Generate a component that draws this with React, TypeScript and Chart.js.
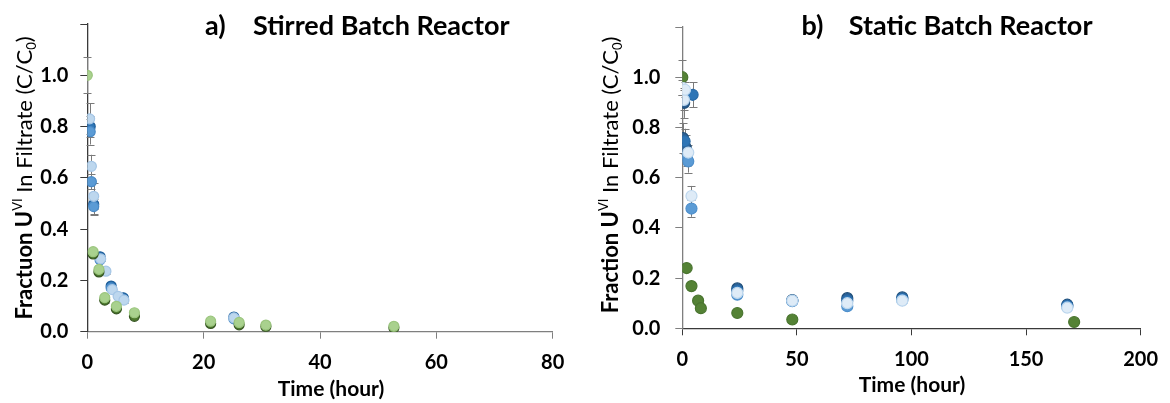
import React, { useEffect, useRef } from "react";
import { Chart, registerables } from "chart.js";

Chart.register(...registerables);

// ---------- Panel a) Stirred Batch Reactor ----------
const aBlueDarkT = [0.5, 1.1, 2.2, 4.1, 6.2, 25.2];
const aBlueDarkC = [0.8, 0.497, 0.292, 0.178, 0.132, 0.057];
const aBlueDarkE = [0.04, 0.04, 0.01, 0.01, 0.01, 0];

const aBlueMidT = [0.5, 0.7, 1.1, 2.2, 4.1, 6.1, 25.2];
const aBlueMidC = [0.78, 0.585, 0.488, 0.28, 0.17, 0.127, 0.05];
const aBlueMidE = [0.05, 0.03, 0.03, 0.01, 0.01, 0.01, 0];

const aBlueLightT = [0.4, 0.7, 1.1, 2.3, 3.2, 4.3, 5.3, 6.3, 25.2];
const aBlueLightC = [0.83, 0.645, 0.528, 0.284, 0.236, 0.164, 0.138, 0.123, 0.054];
const aBlueLightE = [0.06, 0.045, 0.05, 0.01, 0.01, 0.01, 0.01, 0.01, 0];

const aGreenDarkT = [1.0, 2.0, 3.0, 5.0, 8.1, 21.2, 26.1, 30.7, 52.7];
const aGreenDarkC = [0.303, 0.233, 0.123, 0.089, 0.06, 0.032, 0.027, 0.02, 0.015];
const aGreenDarkE = [0.01, 0.01, 0.01, 0.005, 0.005, 0, 0, 0, 0];

const aGreenLightT = [0, 1.0, 2.0, 3.0, 5.0, 8.1, 21.2, 26.1, 30.7, 52.7];
const aGreenLightC = [1.0, 0.312, 0.243, 0.133, 0.099, 0.074, 0.041, 0.036, 0.026, 0.021];
const aGreenLightE = [0.07, 0.01, 0.01, 0.01, 0.005, 0.005, 0, 0, 0, 0];

// ---------- Panel b) Static Batch Reactor ----------
const bNavyT = [0.3, 0.8, 1.5, 24, 48, 72, 96, 168];
const bNavyC = [0.758, 0.898, 0.72, 0.159, 0.112, 0.12, 0.123, 0.094];
const bNavyE = [0.06, 0.06, 0.05, 0, 0, 0, 0, 0];

const bMidT = [1.0, 4.5, 24, 48, 72, 96, 168];
const bMidC = [0.745, 0.93, 0.15, 0.11, 0.11, 0.118, 0.09];
const bMidE = [0.05, 0.05, 0, 0, 0, 0, 0];

const bLightT = [2.0, 2.6, 4.0, 24, 48, 72, 96, 168];
const bLightC = [0.685, 0.665, 0.477, 0.134, 0.108, 0.088, 0.112, 0.085];
const bLightE = [0.04, 0.045, 0.033, 0, 0, 0, 0, 0];

const bPaleT = [0, 0.7, 1.2, 2.6, 4.0, 24, 48, 72, 96, 168];
const bPaleC = [0.958, 0.91, 0.95, 0.7, 0.527, 0.141, 0.11, 0.1, 0.11, 0.082];
const bPaleE = [0.03, 0.04, 0.03, 0.03, 0.04, 0, 0, 0, 0, 0];

const bGreenT = [0, 1.9, 4.0, 6.9, 8.1, 24, 48, 171];
const bGreenC = [1.0, 0.24, 0.168, 0.11, 0.08, 0.061, 0.035, 0.025];
const bGreenE = [0.07, 0, 0, 0, 0, 0, 0, 0];

// ---------- Axis ticks ----------
const yTickValues = [0, 0.2, 0.4, 0.6, 0.8, 1.0, 1.2];
const yTickLabels = ["0.0", "0.2", "0.4", "0.6", "0.8", "1.0", ""];
const aXMax = 80;
const aXStep = 20;
const bXMax = 200;
const bXStep = 50;

const FONT = "Lato, 'Noto Sans', sans-serif";

function pts(t: number[], c: number[]) {
  return t.map((x, i) => ({ x, y: c[i] }));
}

function ds(t: number[], c: number[], e: number[], fill: string, border: string, r = 5) {
  return {
    data: pts(t, c),
    errors: e,
    backgroundColor: fill,
    borderColor: border,
    borderWidth: 1.2,
    pointRadius: r,
    pointHoverRadius: r,
    showLine: false,
  } as any;
}

const errorBarPlugin = {
  id: "errorBars",
  beforeDatasetsDraw(chart: any) {
    const ctx = chart.ctx;
    const xs = chart.scales.x;
    const ys = chart.scales.y;
    ctx.save();
    ctx.strokeStyle = "#7a7a7a";
    ctx.lineWidth = 1;
    chart.data.datasets.forEach((d: any) => {
      (d.data as any[]).forEach((p, i) => {
        const e = d.errors ? d.errors[i] : 0;
        if (!e) return;
        const x = Math.round(xs.getPixelForValue(p.x)) + 0.5;
        const y1 = ys.getPixelForValue(p.y + e);
        const y2 = ys.getPixelForValue(p.y - e);
        ctx.beginPath();
        ctx.moveTo(x, y1);
        ctx.lineTo(x, y2);
        ctx.moveTo(x - 4, Math.round(y1) + 0.5);
        ctx.lineTo(x + 4, Math.round(y1) + 0.5);
        ctx.moveTo(x - 4, Math.round(y2) + 0.5);
        ctx.lineTo(x + 4, Math.round(y2) + 0.5);
        ctx.stroke();
      });
    });
    ctx.restore();
  },
};

type Seg = { t: string; font: string; dy: number };

function makeTextPlugin(cfg: any) {
  return {
    id: "panelTexts",
    afterDraw(chart: any) {
      const ctx = chart.ctx;
      ctx.save();
      ctx.fillStyle = "#000";
      ctx.textBaseline = "alphabetic";
      // panel title
      ctx.font = `bold 27px ${FONT}`;
      ctx.textAlign = "left";
      ctx.fillText(cfg.titleLetter, cfg.titleX1, cfg.titleBase);
      ctx.fillText(cfg.titleText, cfg.titleX2, cfg.titleBase);
      // x axis title
      ctx.font = `bold 21px ${FONT}`;
      ctx.textAlign = "center";
      ctx.fillText("Time (hour)", cfg.xTitleX, cfg.xTitleBase);
      // y axis title, rotated, with super/subscripts
      const segs: Seg[] = [
        { t: cfg.fractionWord + " U", font: `bold 22px ${FONT}`, dy: 0 },
        { t: "VI", font: `13px ${FONT}`, dy: -10 },
        { t: " In Filtrate (C/C", font: `22px ${FONT}`, dy: 0 },
        { t: "0", font: `13px ${FONT}`, dy: 4 },
        { t: ")", font: `22px ${FONT}`, dy: 0 },
      ];
      let total = 0;
      const widths = segs.map((s) => {
        ctx.font = s.font;
        const w = ctx.measureText(s.t).width;
        total += w;
        return w;
      });
      ctx.translate(cfg.yTitleX, cfg.yTitleY);
      ctx.rotate(-Math.PI / 2);
      ctx.textAlign = "left";
      let pos = -total / 2;
      segs.forEach((s, i) => {
        ctx.font = s.font;
        ctx.fillText(s.t, pos, 8 + s.dy);
        pos += widths[i];
      });
      ctx.restore();
    },
  };
}

function buildChart(canvas: HTMLCanvasElement, cfg: any) {
  return new Chart(canvas, {
    type: "scatter",
    data: { datasets: cfg.datasets },
    plugins: [errorBarPlugin, makeTextPlugin(cfg)],
    options: {
      animation: false,
      responsive: false,
      maintainAspectRatio: false,
      layout: { padding: { top: cfg.top, right: cfg.right, bottom: 0, left: 0 } },
      plugins: { legend: { display: false }, tooltip: { enabled: false }, title: { display: false } },
      scales: {
        x: {
          type: "linear",
          min: 0,
          max: cfg.xMax,
          afterFit: (s: any) => {
            s.height = cfg.xAxisHeight;
          },
          ticks: {
            stepSize: cfg.xStep,
            color: "#000",
            padding: 12,
            font: { family: FONT, size: 20, weight: "bold" },
          },
          grid: { drawOnChartArea: false, drawTicks: true, tickLength: 7, tickColor: cfg.xColor },
          border: { display: true, color: cfg.xColor, width: 1.3 },
        },
        y: {
          type: "linear",
          min: 0,
          max: 1.2,
          afterFit: (s: any) => {
            s.width = cfg.yAxisWidth;
          },
          afterBuildTicks: (s: any) => {
            s.ticks = yTickValues.map((v) => ({ value: v }));
          },
          ticks: {
            color: "#000",
            padding: cfg.yPad,
            font: { family: FONT, size: 20, weight: "bold" },
            callback: (v: any) => {
              const i = yTickValues.findIndex((t) => Math.abs(t - Number(v)) < 1e-6);
              return i >= 0 ? yTickLabels[i] : "";
            },
          },
          grid: { drawOnChartArea: false, drawTicks: true, tickLength: 7, tickColor: cfg.yColor },
          border: { display: true, color: cfg.yColor, width: 1.3 },
        },
      },
    } as any,
  });
}

export default function App() {
  const leftRef = useRef<HTMLCanvasElement>(null);
  const rightRef = useRef<HTMLCanvasElement>(null);

  useEffect(() => {
    const left = buildChart(leftRef.current!, {
      datasets: [
        ds(aGreenLightT, aGreenLightC, aGreenLightE, "#a9d18e", "#9cc67f"),
        ds(aGreenDarkT, aGreenDarkC, aGreenDarkE, "#4e7a2e", "#375623"),
        ds(aBlueLightT, aBlueLightC, aBlueLightE, "#bdd7ee", "#a5c6e6"),
        ds(aBlueMidT, aBlueMidC, aBlueMidE, "#5b9bd5", "#4a8ac6"),
        ds(aBlueDarkT, aBlueDarkC, aBlueDarkE, "#2e75b6", "#1f5f9a"),
      ],
      xMax: aXMax,
      xStep: aXStep,
      top: 21.6,
      right: 585 - 552.7,
      xAxisHeight: 403 - 331.7,
      yAxisWidth: 87.3,
      yPad: 12,
      xColor: "#7f7f7f",
      yColor: "#3a3a3a",
      titleLetter: "a)",
      titleText: "Stirred Batch Reactor",
      titleX1: 205,
      titleX2: 253,
      titleBase: 35,
      xTitleX: 331,
      xTitleBase: 396,
      yTitleX: 24,
      yTitleY: 178,
      fractionWord: "Fractuon",
    });
    const right = buildChart(rightRef.current!, {
      datasets: [
        ds(bPaleT, bPaleC, bPaleE, "#deebf7", "#bdd7ee", 5.5),
        ds(bLightT, bLightC, bLightE, "#5b9bd5", "#4f90cc", 5.5),
        ds(bMidT, bMidC, bMidE, "#2e75b6", "#2a6aa6", 5.5),
        ds(bNavyT, bNavyC, bNavyE, "#2a5f94", "#1f4e79", 5.5),
        ds(bGreenT, bGreenC, bGreenE, "#548235", "#4a7530", 5.5),
      ],
      xMax: bXMax,
      xStep: bXStep,
      top: 19.5,
      right: 585 - 560,
      xAxisHeight: 403 - 328.3,
      yAxisWidth: 97.3,
      yPad: 15,
      xColor: "#3a3a3a",
      yColor: "#7f7f7f",
      titleLetter: "b)",
      titleText: "Static Batch Reactor",
      titleX1: 216.5,
      titleX2: 263.8,
      titleBase: 35,
      xTitleX: 912 - 585,
      xTitleBase: 392,
      yTitleX: 610 - 585,
      yTitleY: 175,
      fractionWord: "Fraction",
    });
    return () => {
      left.destroy();
      right.destroy();
    };
  }, []);

  return (
    <div style={{ position: "fixed", left: 0, top: 0, width: 1170, height: 403, background: "#fff" }}>
      <canvas ref={leftRef} width={585} height={403} style={{ position: "absolute", left: 0, top: 0, width: 585, height: 403 }} />
      <canvas ref={rightRef} width={585} height={403} style={{ position: "absolute", left: 585, top: 0, width: 585, height: 403 }} />
    </div>
  );
}
